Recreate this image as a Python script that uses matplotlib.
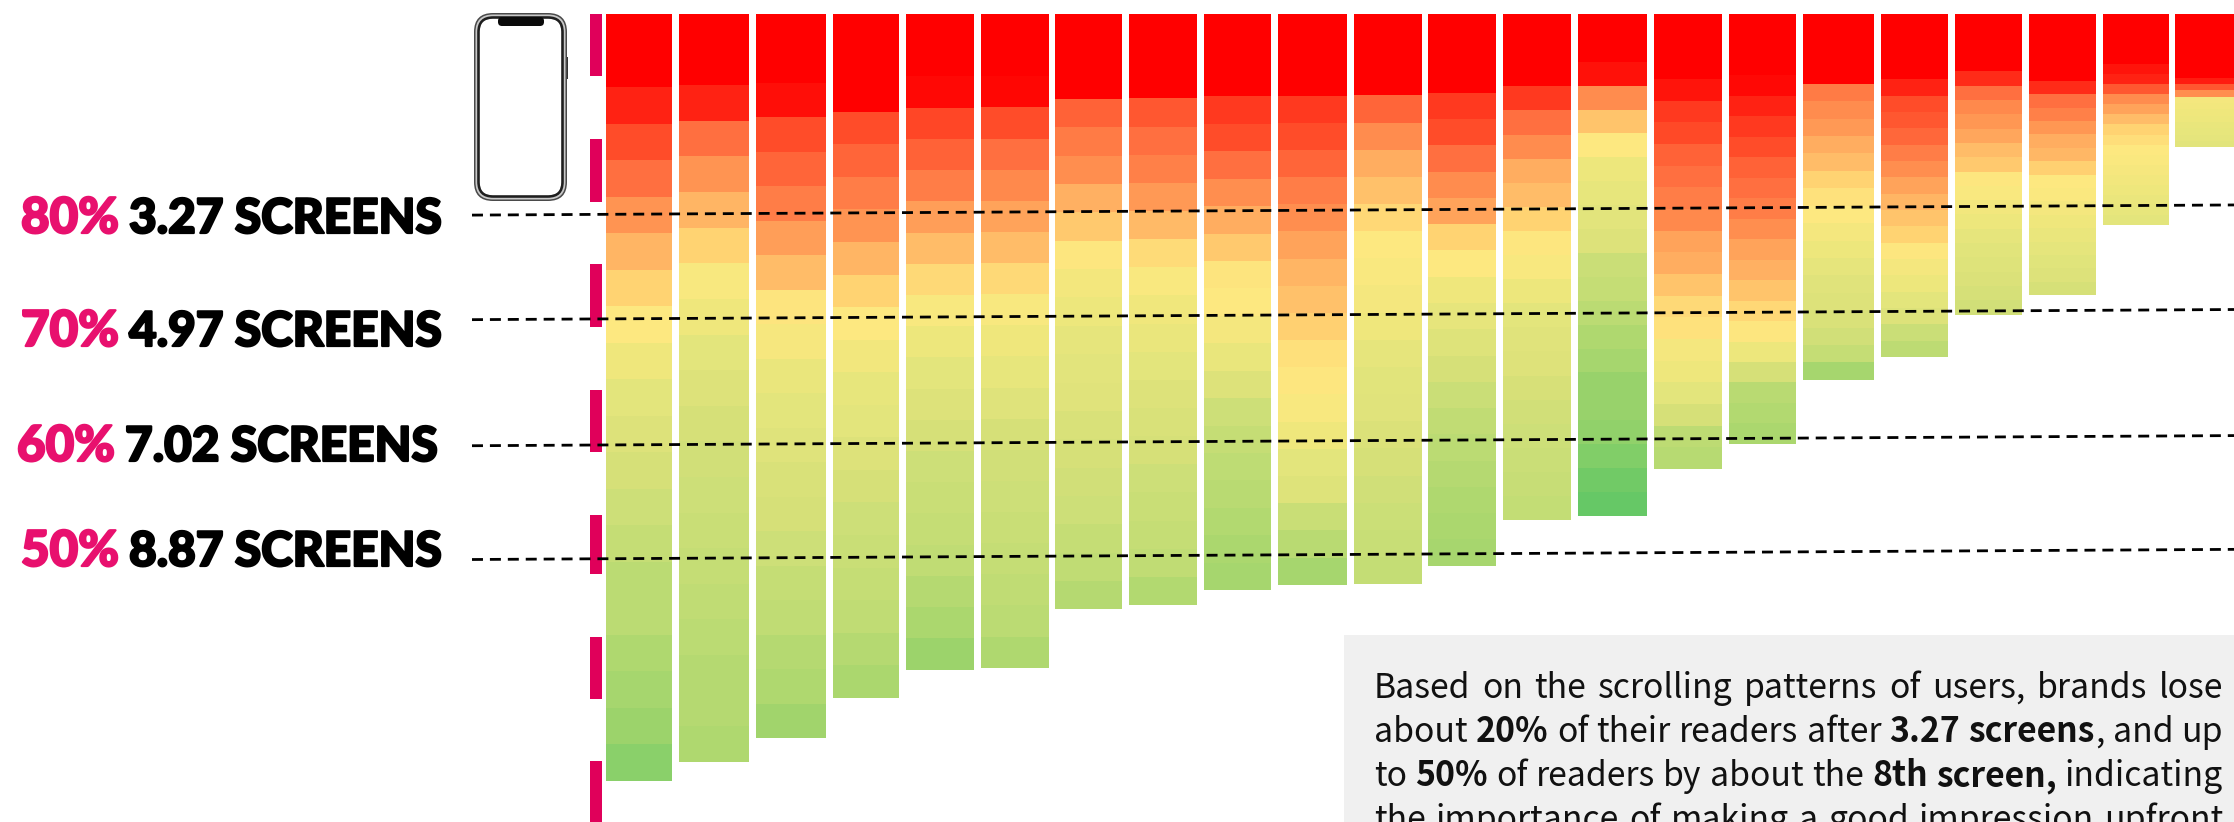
import numpy as np
import matplotlib
matplotlib.use('Agg')
import matplotlib.pyplot as plt
import matplotlib.patheffects as pe
from matplotlib.colors import LinearSegmentedColormap
from matplotlib.patches import FancyBboxPatch, Rectangle

# depth reached by each column, in screens
column_depth = [12.47, 12.16, 11.78, 11.12, 10.66, 10.63, 9.68, 9.61, 9.37, 9.28, 9.27, 8.97,
                8.23, 8.16, 7.40, 6.99, 5.95, 5.58, 4.89, 4.57, 3.43, 2.17]
# column widths on the x scale
column_width = [66, 70, 70, 66, 68, 68, 67, 68, 66.5, 69, 68, 68, 68, 69, 68, 67, 71, 67, 67.5, 66.5, 66, 68]

# heat level of the 21 bands in every column, top to bottom (0 red .. 20 green)
heat = [
    [0, 0, 1, 2, 3, 4, 5, 6, 7, 8, 9, 10, 11, 12, 13, 14, 14, 15, 16, 17, 18],
    [0, 0, 1, 3, 4, 5, 6, 7.4, 8, 9, 10, 11, 11.5, 12, 12.5, 13, 13.5, 14, 14.5, 14.5, 15],
    [0, 0, 0.4, 2, 2.7, 3.4, 4.3, 5.3, 6.8, 7.5, 8.4, 9, 9.7, 10.5, 11, 12, 13, 13.5, 14.5, 15, 16.5],
    [0, 0, 0, 2, 2.7, 3.4, 4, 5, 6, 7, 7.8, 8.6, 9, 10, 11, 12, 12.5, 13, 13.5, 14.5, 15.5],
    [0, 0, 0.3, 1.8, 2.6, 3.4, 4.3, 5.3, 6.3, 7.4, 8.2, 9, 10, 11, 12, 12.5, 13, 13.5, 14.5, 15.5, 17],
    [0, 0, 0.2, 2, 3, 3.7, 4.5, 5.3, 6.3, 7.4, 8, 8.6, 9.7, 11, 11.5, 12, 12.5, 13, 13.5, 14, 15],
    [0, 0, 0, 2.6, 3.3, 3.9, 4.9, 5.7, 6.9, 7.7, 8.2, 8.8, 9.2, 9.6, 10.5, 11, 11.5, 12, 13, 13.5, 14.5],
    [0, 0, 0, 2.3, 3, 3.5, 4.2, 5.2, 6.4, 7.3, 7.9, 8.4, 9, 10, 10.5, 11, 12, 12.5, 13, 13.5, 14.8],
    [0, 0, 0, 1.5, 2, 3, 3.9, 4.8, 5.7, 6.8, 7, 7.6, 8.5, 10, 12, 13, 13.7, 14.2, 14.8, 15.5, 16],
    [0, 0, 0, 1.5, 2, 2.7, 3.4, 3.9, 4.5, 5, 5.4, 5.9, 6.6, 6.9, 7.4, 8, 9, 9.8, 12.5, 14.2, 16],
    [0, 0, 0, 2.7, 3.8, 4.8, 5.4, 6.2, 7, 7.3, 7.6, 8, 8.8, 9.3, 9.6, 10.3, 11, 11.7, 12.2, 12.6, 13.1],
    [0, 0, 0, 1.5, 2, 3, 3.8, 4.5, 6, 7, 8, 8.8, 9.8, 11, 12.3, 13.4, 14, 14.5, 15, 15.5, 15.9],
    [0, 0, 0, 1.5, 3, 3.8, 4.8, 5.3, 6, 6.9, 7.4, 8.2, 9, 9.6, 9.9, 10.8, 11.5, 12, 12.4, 12.8, 13.2],
    [0, 0, 0.5, 3.8, 5.5, 7, 8.2, 8.6, 9.2, 10, 12.4, 13, 14, 15, 16, 17.2, 17.2, 17.6, 18.4, 19.2, 20],
    [0, 0, 0, 0.6, 1.5, 1.9, 2.6, 3, 3.4, 3.7, 4.5, 4.8, 5.5, 6.3, 6.7, 7.6, 8.1, 9, 11, 13.8, 14.3],
    [0, 0, 0, 0.3, 1, 1.5, 2, 2.6, 3, 3.4, 3.9, 4.5, 4.9, 5.5, 6.2, 6.9, 8.2, 11, 14.2, 14.8, 15.5],
    [0, 0, 0, 0, 3.3, 3.8, 4.2, 4.8, 5.3, 6, 6.7, 7, 7.6, 8.2, 8.8, 9.6, 10, 10.5, 11.5, 13, 16],
    [0, 0, 0, 0, 1, 2, 2.3, 2.8, 3.4, 3.9, 4.5, 5, 5.5, 6, 6.9, 7.6, 8.2, 9, 10, 12.4, 13.8],
    [0, 0, 0, 0, 1.2, 3, 3.7, 4.1, 4.6, 5.3, 5.7, 6.9, 7.3, 7.8, 8.2, 8.8, 9.3, 9.8, 10.3, 11, 11.5],
    [0, 0, 0, 0, 0, 1.2, 3, 3.5, 4.1, 4.8, 5.1, 5.9, 7, 7.2, 7.6, 8, 8.4, 8.9, 9.5, 10, 11],
    [0, 0, 0, 0, 0, 0.6, 1, 2.3, 3.8, 4.5, 5.3, 6, 6.5, 7, 7.2, 7.5, 7.8, 8.1, 8.4, 8.7, 9],
    [0, 0, 0, 0, 0, 0, 0, 0, 0, 0, 0.8, 2.3, 3.9, 7.6, 7.8, 8, 8.2, 8.5, 8.7, 8.9, 9.2],
]

# readers kept and the scroll depth where that happens
kept_pct = ['80%', '70%', '60%', '50%']
kept_screens = [3.27, 4.97, 7.02, 8.87]

# screens marked along the left edge: start and end of every second screen
fold_start = [0.0, 2.03, 4.07, 6.11, 8.15, 10.13, 12.15]
fold_end = [1.01, 3.06, 5.09, 7.12, 9.10, 11.14, 13.25]

note_lines = [
    [('Based', 0), ('on', 0), ('the', 0), ('scrolling', 0), ('patterns', 0), ('of', 0), ('users,', 0), ('brands', 0), ('lose', 0)],
    [('about', 0), ('20%', 1), ('of', 0), ('their', 0), ('readers', 0), ('after', 0), ('3.27', 1), ('screens', 1), (',', 2), ('and', 0), ('up', 0)],
    [('to', 0), ('50%', 1), ('of', 0), ('readers', 0), ('by', 0), ('about', 0), ('the', 0), ('8th', 1), ('screen,', 1), ('indicating', 0)],
    [('the', 0), ('importance', 0), ('of', 0), ('making', 0), ('a', 0), ('good', 0), ('impression', 0), ('upfront', 0)],
]

W, H = 2234, 822
DPI = 100
SCREEN_PX = 61.5
TOP_PX = 14
FIRST_LEFT = 606
GAP = 6.9
PINK = '#E0005A'

heat_cmap = LinearSegmentedColormap.from_list('heat', [
    (0.00, '#FF0000'), (0.05, '#FF2414'), (0.10, '#FF4E2A'), (0.15, '#FF7040'),
    (0.20, '#FF9452'), (0.25, '#FFB464'), (0.30, '#FFD473'), (0.35, '#FDE880'),
    (0.40, '#EFE77C'), (0.45, '#E3E57C'), (0.50, '#DDE27A'), (0.55, '#D6E078'),
    (0.60, '#CDDF78'), (0.65, '#C5DD75'), (0.70, '#BBDB73'), (0.75, '#B0D86F'),
    (0.80, '#A6D66E'), (0.85, '#9CD36B'), (0.90, '#8BD06A'), (0.95, '#74CB66'),
    (1.00, '#66C866'),
])

fig = plt.figure(figsize=(W / DPI, H / DPI), dpi=DPI, facecolor='white')
ax = fig.add_axes([0, 0, 1, 1])
ax.set_xlim(0, W)
ax.set_ylim((H - TOP_PX) / SCREEN_PX, -TOP_PX / SCREEN_PX)
ax.axis('off')

# overlay in plain figure pixels for the phone, the note and the labels
px = fig.add_axes([0, 0, 1, 1], zorder=3)
px.set_xlim(0, W)
px.set_ylim(H, 0)
px.axis('off')
px.patch.set_alpha(0)

# heat columns, 21 equal bands each
widths = np.array(column_width, dtype=float)
lefts = FIRST_LEFT + np.concatenate(([0], np.cumsum(widths[:-1] + GAP)))
for left, width, depth, levels in zip(lefts, widths, column_depth, heat):
    band = depth / len(levels)
    tops = np.arange(len(levels)) * band
    ax.bar(left, band, width=width, bottom=tops, align='edge',
           color=heat_cmap(np.array(levels) / 20), linewidth=0, antialiased=False)

# fold marks
ax.bar(596, np.array(fold_end) - np.array(fold_start), width=12, bottom=fold_start, color=PINK, linewidth=0)

# dashed retention lines, slightly rising towards the right
for screens in kept_screens:
    ax.plot([472, W], [screens, screens - 0.165], color='black', lw=2.0,
            linestyle=(0, (3.95, 2.5)), zorder=5, dash_capstyle='butt')

# labels, thickened with a stroke because the family stops at its black weight
label_y = [233, 346, 461, 566]
label_dx = [0, 0, -4, 0]
for pct, screens, y, dx in zip(kept_pct, kept_screens, label_y, label_dx):
    px.text(21 + dx, y, pct, color='#E8106E', family='Lato', weight='black', fontsize=35.5, va='baseline',
            path_effects=[pe.withStroke(linewidth=1.6, foreground='#E8106E')])
    px.text(129 + dx, y, '%.2f SCREENS' % screens, color='black', family='Lato', weight='black',
            fontsize=34.4, va='baseline', path_effects=[pe.withStroke(linewidth=1.6, foreground='black')])


# phone: rim layers from the outside in, then the notch
def rim(inset, radius, colour):
    px.add_patch(FancyBboxPatch((474 + inset, 13 + inset), 93 - 2 * inset, 188 - 2 * inset,
                                boxstyle='round,pad=0,rounding_size=%g' % radius,
                                fc=colour, ec='none'))


rim(0, 19, '#4A4A4A')
rim(1.5, 17.5, '#C8C8C8')
rim(3.2, 16, '#1E1E1E')
rim(5.8, 13, 'white')
px.add_patch(FancyBboxPatch((498, 17), 46, 9, boxstyle='round,pad=0,rounding_size=4', fc='#0A0A0A', ec='none'))
px.add_patch(Rectangle((567, 57), 1, 22, fc='#333333', ec='none'))

# note panel with justified lines
px.add_patch(Rectangle((1344, 635), W - 1344, H - 635, fc='#F0F0F0', ec='none'))
note_left, note_right = 1374, 2223
note_base = [698, 742, 786, 830]
note_font = ['Noto Sans CJK SC', 'DejaVu Sans']
note_size = 24.3
renderer = fig.canvas.get_renderer()


def word_width(word, bold):
    t = px.text(0, 0, word, family=note_font, weight='bold' if bold == 1 else 'normal', fontsize=note_size)
    w = t.get_window_extent(renderer).width
    t.remove()
    return w


for words, base in zip(note_lines, note_base):
    sizes = [word_width(w, b) for w, b in words]
    # a kind of 2 means the word hangs on the one before, without a space
    spaces = sum(1 for w, b in words[1:] if b != 2)
    gap = (note_right - note_left - sum(sizes)) / spaces
    x = note_left
    for (word, bold), size in zip(words, sizes):
        if bold == 2:
            x -= gap
        px.text(x, base, word, family=note_font, weight='bold' if bold == 1 else 'normal',
                fontsize=note_size, color='#111111', va='baseline')
        x += size + gap

fig.savefig('out.png', dpi=DPI)
